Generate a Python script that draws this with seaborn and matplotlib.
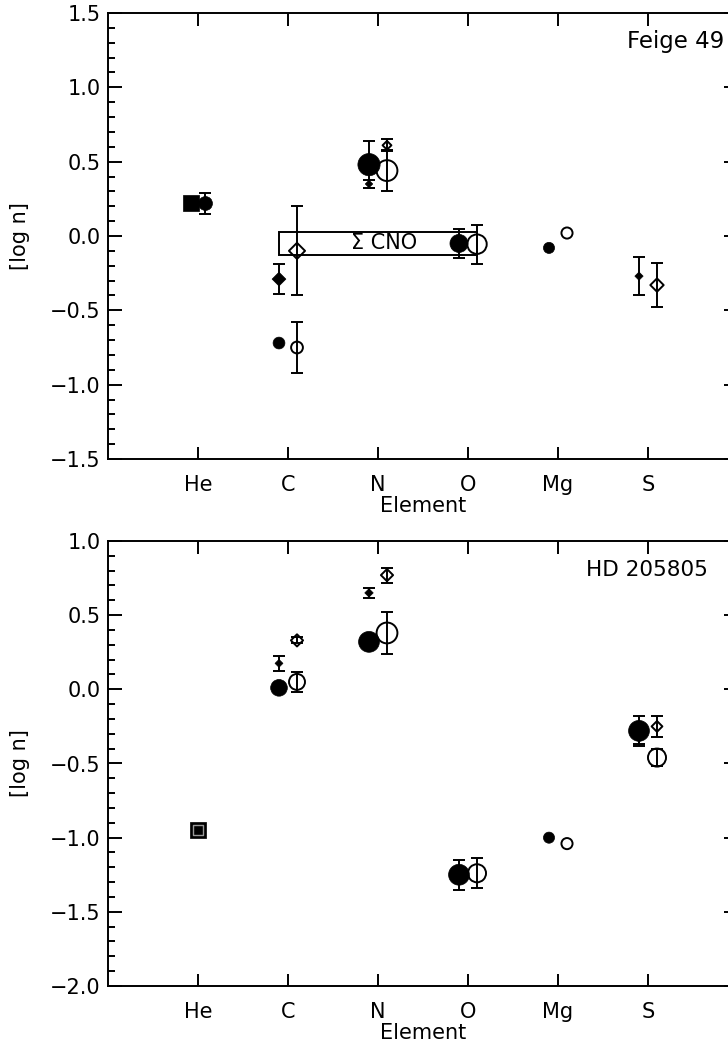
import numpy as np
import seaborn as sns
import matplotlib.pyplot as plt
from matplotlib.patches import Rectangle
from matplotlib.ticker import MultipleLocator

elements = ['He', 'C', 'N', 'O', 'Mg', 'S']

# ---- Feige 49 (top panel) ----
f49_fsq_el = ['He']
f49_fsq_val = [0.22]
f49_fsq_err = [0.0]

f49_fci_el = ['He', 'C', 'N', 'O', 'Mg']
f49_fci_val = [0.22, -0.72, 0.48, -0.05, -0.08]
f49_fci_err = [0.07, 0.0, 0.16, 0.095, 0.0]

f49_oci_el = ['C', 'N', 'O', 'Mg']
f49_oci_val = [-0.75, 0.44, -0.055, 0.02]
f49_oci_err = [0.17, 0.14, 0.13, 0.0]

f49_fdi_el = ['C', 'N', 'S']
f49_fdi_val = [-0.29, 0.35, -0.27]
f49_fdi_err = [0.10, 0.03, 0.13]

f49_odi_el = ['C', 'N', 'S']
f49_odi_val = [-0.10, 0.61, -0.33]
f49_odi_err = [0.30, 0.04, 0.15]

cno_box = [-0.13, 0.03]

# ---- HD 205805 (bottom panel) ----
hd_fsq_el = ['He']
hd_fsq_val = [-0.95]
hd_fsq_err = [0.03]

hd_fci_el = ['C', 'N', 'O', 'Mg', 'S']
hd_fci_val = [0.01, 0.32, -1.25, -1.00, -0.28]
hd_fci_err = [0.0, 0.0, 0.10, 0.0, 0.10]

hd_oci_el = ['C', 'N', 'O', 'Mg', 'S']
hd_oci_val = [0.05, 0.38, -1.24, -1.04, -0.46]
hd_oci_err = [0.07, 0.14, 0.10, 0.0, 0.06]

hd_fdi_el = ['C', 'N', 'S']
hd_fdi_val = [0.175, 0.65, -0.33]
hd_fdi_err = [0.05, 0.035, 0.04]

hd_odi_el = ['C', 'N', 'S']
hd_odi_val = [0.33, 0.77, -0.25]
hd_odi_err = [0.02, 0.05, 0.07]

# marker sizes (points) - style only
f49_fsq_ms = [12]
f49_fci_ms = [10, 8.5, 16, 13, 8]
f49_oci_ms = [8.5, 15, 14, 8]
f49_fdi_ms = [7, 3.8, 4.2]
f49_odi_ms = [8.2, 4.5, 6.8]
hd_fsq_ms = [12]
hd_fci_ms = [12, 15, 15, 8, 15]
hd_oci_ms = [11.5, 15, 13, 8, 13]
hd_fdi_ms = [4, 4.3, 4]
hd_odi_ms = [6.2, 6.2, 5.5]


def xpos(els, dx):
    return np.array([elements.index(e) + 1 for e in els]) + dx


def draw(ax, els, vals, errs, ms, dx, marker, filled):
    x = xpos(els, dx)
    s = np.array(ms) ** 2
    if filled:
        sns.scatterplot(x=x, y=vals, ax=ax, marker=marker, s=s, color='black',
                        edgecolor='black', linewidth=0.5, zorder=3)
    else:
        sns.scatterplot(x=x, y=vals, ax=ax, marker=marker, s=s, color='black',
                        facecolor='none', edgecolor='black', linewidth=1.4, zorder=3)
    errs = np.array(errs)
    m = errs > 0
    if m.any():
        ax.errorbar(x[m], np.array(vals)[m], yerr=errs[m], fmt='none', ecolor='black',
                    elinewidth=1.4, capsize=4.6, capthick=1.4, zorder=4)


sns.set_style('ticks')
plt.rcParams['font.family'] = ['DejaVu Sans']
plt.rcParams.update({'axes.linewidth': 1.4, 'text.color': 'black',
                     'axes.labelcolor': 'black', 'axes.edgecolor': 'black',
                     'xtick.color': 'black', 'ytick.color': 'black'})

fig = plt.figure(figsize=(7.28, 10.46), dpi=100)
ax1 = fig.add_axes([108 / 728, 1 - 459 / 1046, 630 / 728, 446 / 1046])
ax2 = fig.add_axes([108 / 728, 1 - 986 / 1046, 630 / 728, 445 / 1046])

# top panel
draw(ax1, f49_fsq_el, f49_fsq_val, f49_fsq_err, f49_fsq_ms, -0.08, 's', True)
draw(ax1, ['He'], [f49_fci_val[0]], [f49_fci_err[0]], [f49_fci_ms[0]], 0.08, 'o', True)
draw(ax1, f49_fci_el[1:], f49_fci_val[1:], f49_fci_err[1:], f49_fci_ms[1:], -0.1, 'o', True)
draw(ax1, f49_oci_el, f49_oci_val, f49_oci_err, f49_oci_ms, 0.1, 'o', False)
draw(ax1, f49_fdi_el, f49_fdi_val, f49_fdi_err, f49_fdi_ms, -0.1, 'D', True)
draw(ax1, f49_odi_el, f49_odi_val, f49_odi_err, f49_odi_ms, 0.1, 'D', False)
ax1.add_patch(Rectangle((1.9, cno_box[0]), 2.2, cno_box[1] - cno_box[0],
                        fill=False, edgecolor='black', linewidth=1.4, zorder=2))
ax1.text(3.07, np.mean(cno_box), '\u03a3 CNO', ha='center', va='center', fontsize=15)
ax1.text(0.978, 0.935, 'Feige 49', transform=ax1.transAxes, ha='right', va='center',
         fontsize=16.5)
ax1.set_ylim(-1.5, 1.5)

# bottom panel
draw(ax2, hd_fsq_el, hd_fsq_val, hd_fsq_err, hd_fsq_ms, 0.0, 's', True)
sns.scatterplot(x=xpos(hd_fsq_el, 0.0), y=hd_fsq_val, ax=ax2, marker='s', s=7.5 ** 2,
                color='none', edgecolor='0.6', linewidth=1.0, zorder=5)
draw(ax2, hd_fci_el, hd_fci_val, hd_fci_err, hd_fci_ms, -0.1, 'o', True)
draw(ax2, hd_oci_el, hd_oci_val, hd_oci_err, hd_oci_ms, 0.1, 'o', False)
draw(ax2, hd_fdi_el, hd_fdi_val, hd_fdi_err, hd_fdi_ms, -0.1, 'D', True)
draw(ax2, hd_odi_el, hd_odi_val, hd_odi_err, hd_odi_ms, 0.1, 'D', False)
ax2.text(0.952, 0.935, 'HD 205805', transform=ax2.transAxes, ha='right', va='center',
         fontsize=15.5)
ax2.set_ylim(-2.0, 1.0)

for ax in (ax1, ax2):
    ax.set_xlim(0, 7)
    ax.set_xticks(range(1, 7))
    ax.set_xticklabels(elements)
    ax.yaxis.set_major_locator(MultipleLocator(0.5))
    ax.yaxis.set_minor_locator(MultipleLocator(0.1))
    ax.tick_params(which='both', direction='in', top=True, right=True, width=1.4)
    ax.tick_params(axis='y', which='major', length=10, pad=5.5, labelsize=15)
    ax.tick_params(axis='y', which='minor', length=5)
    ax.tick_params(axis='x', which='major', length=9, pad=11.5, labelsize=15)
    ax.set_xlabel('Element', fontsize=15, labelpad=1)
    ax.set_ylabel('[log n]', fontsize=15, labelpad=14)
    for sp in ax.spines.values():
        sp.set_visible(True)

fig.savefig('out.png', dpi=100)
